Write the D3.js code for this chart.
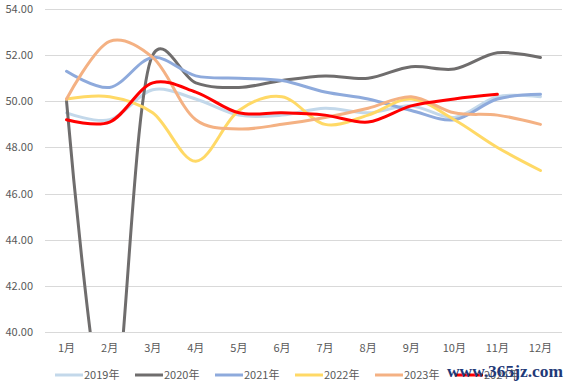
<!DOCTYPE html>
<html><head><meta charset="utf-8">
<script src="https://cdn.jsdelivr.net/npm/d3@7/dist/d3.min.js"></script>
<style>body{margin:0;background:#fff}svg{display:block}</style>
</head><body>
<script>
const months = ["1月","2月","3月","4月","5月","6月","7月","8月","9月","10月","11月","12月"];
const yTicks = [40,42,44,46,48,50,52,54];
const seriesNames = ["2019年","2020年","2021年","2022年","2023年","2024年"];
const v2019 = [49.5,49.2,50.5,50.1,49.4,49.4,49.7,49.5,49.8,49.3,50.2,50.2];
const v2020 = [50.0,35.7,52.0,50.8,50.6,50.9,51.1,51.0,51.5,51.4,52.1,51.9];
const v2021 = [51.3,50.6,51.9,51.1,51.0,50.9,50.4,50.1,49.6,49.2,50.1,50.3];
const v2022 = [50.1,50.2,49.5,47.4,49.6,50.2,49.0,49.4,50.1,49.2,48.0,47.0];
const v2023 = [50.1,52.6,51.9,49.2,48.8,49.0,49.3,49.7,50.2,49.5,49.4,49.0];
const v2024 = [49.2,49.1,50.8,50.4,49.5,49.5,49.4,49.1,49.8,50.1,50.3];
const colors = ["#c3d8ea","#6f6d6d","#8eaadc","#ffd966","#f4b183","#ff0000"];
const allValues = [v2019,v2020,v2021,v2022,v2023,v2024];

const W=571,H=383, L=45, R=562, T=9, B=332;
const svg = d3.select("body").append("svg").attr("width",W).attr("height",H);
const x = d3.scaleBand().domain(months).range([L,R]);
const y = d3.scaleLinear().domain([40,54]).range([B,T]);
const font = "'Microsoft YaHei','Noto Sans CJK SC',sans-serif";

svg.append("g").selectAll("line").data(yTicks).join("line")
  .attr("x1",L).attr("x2",R).attr("y1",d=>Math.round(y(d))+0.5).attr("y2",d=>Math.round(y(d))+0.5)
  .attr("stroke","#d9d9d9").attr("stroke-width",1);
svg.append("g").selectAll("text").data(yTicks).join("text")
  .attr("x",33).attr("y",d=>y(d)+4).attr("text-anchor","end")
  .attr("font-family",font).attr("font-size",11).attr("fill","#595959")
  .text(d=>d.toFixed(2));
svg.append("g").selectAll("text").data(months).join("text")
  .attr("x",d=>x(d)+x.bandwidth()/2).attr("y",352).attr("text-anchor","middle")
  .attr("font-family",font).attr("font-size",11).attr("fill","#595959")
  .text(d=>d);

svg.append("clipPath").attr("id","clip").append("rect")
  .attr("x",L).attr("y",T-5).attr("width",R-L).attr("height",B-T+5);
const line = d3.line().x((d,i)=>x(months[i])+x.bandwidth()/2).y(d=>y(d))
  .curve(d3.curveCatmullRom.alpha(0.25));
const g = svg.append("g").attr("clip-path","url(#clip)");
allValues.forEach((vals,k)=>{
  g.append("path").attr("d",line(vals)).attr("fill","none")
   .attr("stroke",colors[k]).attr("stroke-width",3).attr("stroke-linejoin","round").attr("stroke-linecap","round");
});

const lg = svg.append("g");
seriesNames.forEach((n,k)=>{
  const lx = 55 + k*80;
  lg.append("line").attr("x1",lx).attr("x2",lx+28).attr("y1",375).attr("y2",375)
    .attr("stroke",colors[k]).attr("stroke-width",3);
  lg.append("text").attr("x",lx+29).attr("y",379).attr("font-family",font)
    .attr("font-size",11).attr("fill","#595959").text(n);
});
svg.append("text").attr("x",447).attr("y",377).attr("font-family","'Liberation Serif',serif")
  .attr("font-weight","bold").attr("font-size",17).attr("fill","#1f3a78")
  .attr("textLength",116).attr("lengthAdjust","spacingAndGlyphs").text("www.365jz.com");
</script>
</body></html>
